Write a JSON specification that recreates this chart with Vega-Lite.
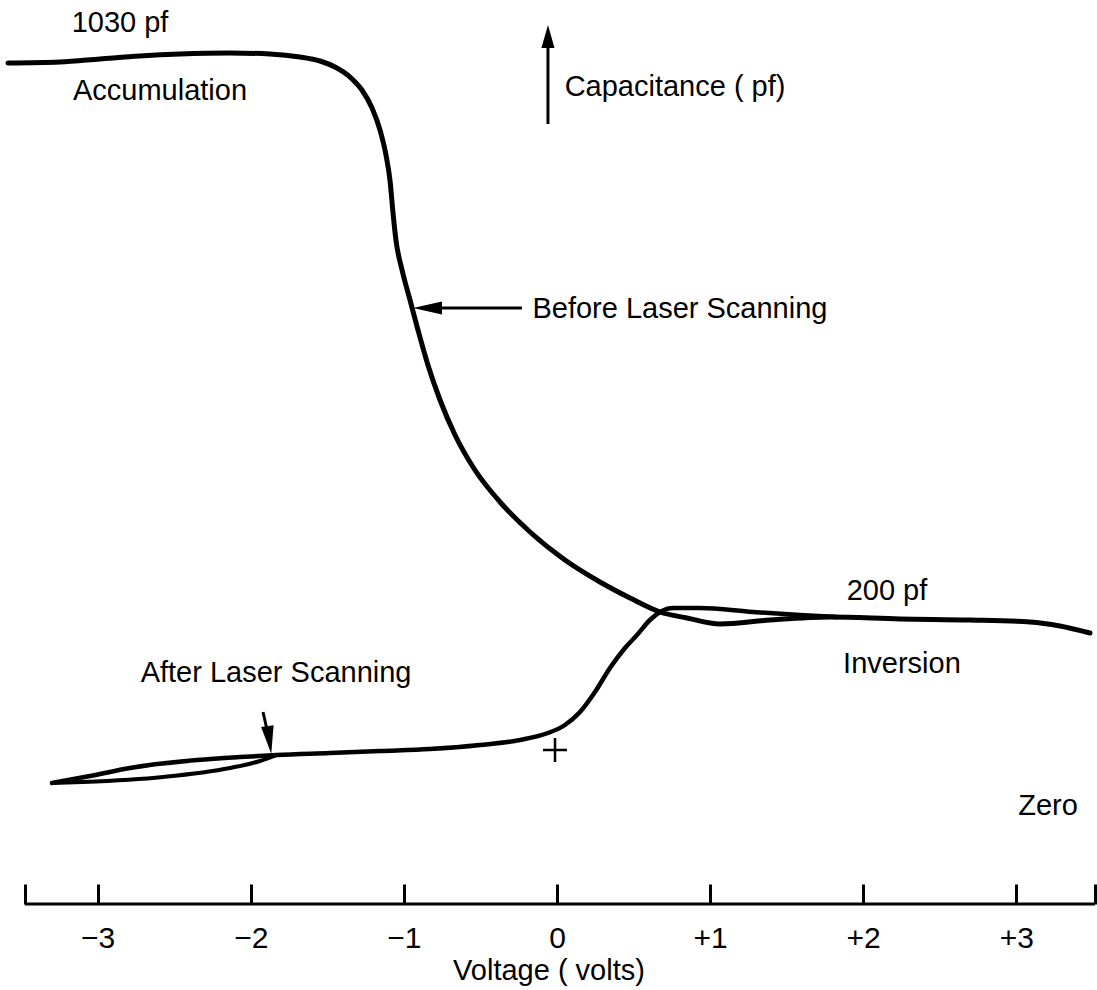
{
  "$schema": "https://vega.github.io/schema/vega-lite/v6.json",
  "width": 1097,
  "height": 904,
  "autosize": "none",
  "padding": {"left": 0, "top": 0, "right": 0, "bottom": 86},
  "background": "white",
  "config": {"view": {"stroke": null}},
  "datasets": {
    "curves": [
      {"series": "before", "i": 0, "v": -3.586, "c": 841},
      {"series": "before", "i": 1, "v": -3.246, "c": 842},
      {"series": "before", "i": 2, "v": -2.985, "c": 845},
      {"series": "before", "i": 3, "v": -2.724, "c": 848},
      {"series": "before", "i": 4, "v": -2.462, "c": 850},
      {"series": "before", "i": 5, "v": -2.136, "c": 851},
      {"series": "before", "i": 6, "v": -1.875, "c": 850},
      {"series": "before", "i": 7, "v": -1.679, "c": 847},
      {"series": "before", "i": 8, "v": -1.548, "c": 843},
      {"series": "before", "i": 9, "v": -1.450, "c": 837},
      {"series": "before", "i": 10, "v": -1.352, "c": 827},
      {"series": "before", "i": 11, "v": -1.274, "c": 814},
      {"series": "before", "i": 12, "v": -1.208, "c": 796},
      {"series": "before", "i": 13, "v": -1.156, "c": 774},
      {"series": "before", "i": 14, "v": -1.117, "c": 749},
      {"series": "before", "i": 15, "v": -1.091, "c": 724},
      {"series": "before", "i": 16, "v": -1.071, "c": 691},
      {"series": "before", "i": 17, "v": -1.052, "c": 664},
      {"series": "before", "i": 18, "v": -1.012, "c": 634},
      {"series": "before", "i": 19, "v": -0.960, "c": 604},
      {"series": "before", "i": 20, "v": -0.908, "c": 574},
      {"series": "before", "i": 21, "v": -0.843, "c": 539},
      {"series": "before", "i": 22, "v": -0.764, "c": 504},
      {"series": "before", "i": 23, "v": -0.666, "c": 469},
      {"series": "before", "i": 24, "v": -0.536, "c": 434},
      {"series": "before", "i": 25, "v": -0.372, "c": 402},
      {"series": "before", "i": 26, "v": -0.176, "c": 372},
      {"series": "before", "i": 27, "v": 0.052, "c": 344},
      {"series": "before", "i": 28, "v": 0.281, "c": 322},
      {"series": "before", "i": 29, "v": 0.477, "c": 306},
      {"series": "before", "i": 30, "v": 0.673, "c": 292},
      {"series": "before", "i": 31, "v": 0.849, "c": 286},
      {"series": "before", "i": 32, "v": 1.065, "c": 280},
      {"series": "before", "i": 33, "v": 1.391, "c": 284},
      {"series": "before", "i": 34, "v": 1.783, "c": 287},
      {"series": "before", "i": 35, "v": 2.240, "c": 285},
      {"series": "before", "i": 36, "v": 2.698, "c": 284},
      {"series": "before", "i": 37, "v": 3.089, "c": 282},
      {"series": "before", "i": 38, "v": 3.285, "c": 278},
      {"series": "before", "i": 39, "v": 3.481, "c": 271},
      {"series": "after", "i": 0, "v": -3.298, "c": 121},
      {"series": "after", "i": 1, "v": -3.050, "c": 128},
      {"series": "after", "i": 2, "v": -2.789, "c": 136},
      {"series": "after", "i": 3, "v": -2.351, "c": 144},
      {"series": "after", "i": 4, "v": -2.071, "c": 147},
      {"series": "after", "i": 5, "v": -1.829, "c": 149},
      {"series": "after", "i": 6, "v": -1.483, "c": 151},
      {"series": "after", "i": 7, "v": -1.156, "c": 153},
      {"series": "after", "i": 8, "v": -0.830, "c": 155},
      {"series": "after", "i": 9, "v": -0.503, "c": 159},
      {"series": "after", "i": 10, "v": -0.242, "c": 164},
      {"series": "after", "i": 11, "v": -0.059, "c": 171},
      {"series": "after", "i": 12, "v": 0.052, "c": 179},
      {"series": "after", "i": 13, "v": 0.150, "c": 192},
      {"series": "after", "i": 14, "v": 0.248, "c": 212},
      {"series": "after", "i": 15, "v": 0.346, "c": 236},
      {"series": "after", "i": 16, "v": 0.444, "c": 256},
      {"series": "after", "i": 17, "v": 0.523, "c": 269},
      {"series": "after", "i": 18, "v": 0.607, "c": 284},
      {"series": "after", "i": 19, "v": 0.673, "c": 292},
      {"series": "after", "i": 20, "v": 0.758, "c": 296},
      {"series": "after", "i": 21, "v": 0.934, "c": 296},
      {"series": "after", "i": 22, "v": 1.280, "c": 292},
      {"series": "after", "i": 23, "v": 1.587, "c": 289},
      {"series": "after", "i": 24, "v": 1.829, "c": 287},
      {"series": "after_return", "i": 0, "v": -3.298, "c": 121},
      {"series": "after_return", "i": 1, "v": -3.096, "c": 122},
      {"series": "after_return", "i": 2, "v": -2.573, "c": 127},
      {"series": "after_return", "i": 3, "v": -2.136, "c": 136},
      {"series": "after_return", "i": 4, "v": -1.940, "c": 143},
      {"series": "after_return", "i": 5, "v": -1.829, "c": 149}
    ],
    "rules": [
      {"name": "axis line", "v": -3.475, "c": 0, "v2": 3.514, "c2": 0},
      {"name": "capacitance arrow", "v": -0.059, "c": 780, "v2": -0.059, "c2": 859},
      {"name": "before arrow", "v": -0.764, "c": 596, "v2": -0.229, "c2": 596},
      {"name": "after arrow", "v": -1.920, "c": 192, "v2": -1.888, "c2": 170}
    ],
    "labels": [
      {"t": "1030 pf", "v": -2.854, "c": 872},
      {"t": "Accumulation", "v": -2.593, "c": 804},
      {"t": "Capacitance ( pf)", "v": 0.771, "c": 808},
      {"t": "Before Laser Scanning", "v": 0.803, "c": 586},
      {"t": "200 pf", "v": 2.155, "c": 304},
      {"t": "Inversion", "v": 2.253, "c": 231},
      {"t": "After Laser Scanning", "v": -1.835, "c": 222},
      {"t": "Zero", "v": 3.207, "c": 89}
    ]
  },
  "encoding": {
    "x": {
      "field": "v",
      "type": "quantitative",
      "scale": {"domain": [-3.638, 3.527], "nice": false, "zero": false},
      "axis": {
        "values": [-3.475, -3, -2, -1, 0, 1, 2, 3, 3.514],
        "labelExpr": "abs(datum.value) > 3.2 ? '' : datum.value > 0 ? '+' + format(datum.value, 'd') : datum.value < 0 ? '\u2212' + format(-datum.value, 'd') : '0'",
        "domain": false,
        "grid": false,
        "ticks": true,
        "tickSize": -20,
        "tickWidth": 3,
        "tickColor": "black",
        "labelPadding": 39,
        "labelFont": "Liberation Sans",
        "labelFontSize": 30,
        "labelColor": "black",
        "labelFlush": false,
        "labelOverlap": false,
        "title": "Voltage ( volts)",
        "titleFont": "Liberation Sans",
        "titleFontSize": 29,
        "titleFontWeight": "normal",
        "titleColor": "black",
        "titlePadding": 3
      }
    },
    "y": {
      "field": "c",
      "type": "quantitative",
      "scale": {"domain": [0, 904], "nice": false, "zero": false},
      "axis": null
    }
  },
  "layer": [
    {
      "data": {"name": "curves"},
      "mark": {"type": "line", "color": "black", "interpolate": "monotone", "strokeCap": "round", "strokeJoin": "round"},
      "encoding": {
        "detail": {"field": "series", "type": "nominal"},
        "order": {"field": "i", "type": "quantitative"},
        "strokeWidth": {
          "field": "series",
          "type": "nominal",
          "scale": {"domain": ["before", "after", "after_return"], "range": [5, 4, 4]},
          "legend": null
        }
      }
    },
    {
      "data": {"name": "rules"},
      "mark": {"type": "rule", "color": "black", "strokeWidth": 3},
      "encoding": {
        "x2": {"field": "v2"},
        "y2": {"field": "c2"}
      }
    },
    {
      "data": {"values": [{"v": -0.059, "c": 867.5}]},
      "mark": {"type": "point", "shape": "M0,-1L0.57,1L-0.57,1Z", "size": 529, "filled": true, "color": "black", "opacity": 1, "strokeWidth": 0}
    },
    {
      "data": {"values": [{"v": -0.846, "c": 596}]},
      "mark": {"type": "point", "shape": "M-1,0L1,-0.45L1,0.45Z", "size": 841, "filled": true, "color": "black", "opacity": 1, "strokeWidth": 0}
    },
    {
      "data": {"values": [{"v": -1.879, "c": 164}]},
      "mark": {"type": "point", "shape": "M0,1L-0.45,-1L0.45,-1Z", "size": 784, "angle": -8, "filled": true, "color": "black", "opacity": 1, "strokeWidth": 0}
    },
    {
      "data": {"values": [{"v": -0.013, "c": 154}]},
      "mark": {"type": "point", "shape": "M-1,0L1,0M0,-1L0,1", "size": 576, "filled": false, "color": "black", "opacity": 1, "strokeWidth": 2.5}
    },
    {
      "data": {"name": "labels"},
      "mark": {"type": "text", "align": "center", "baseline": "alphabetic", "font": "Liberation Sans", "fontSize": 29, "color": "black"},
      "encoding": {
        "text": {"field": "t", "type": "nominal"}
      }
    }
  ]
}
